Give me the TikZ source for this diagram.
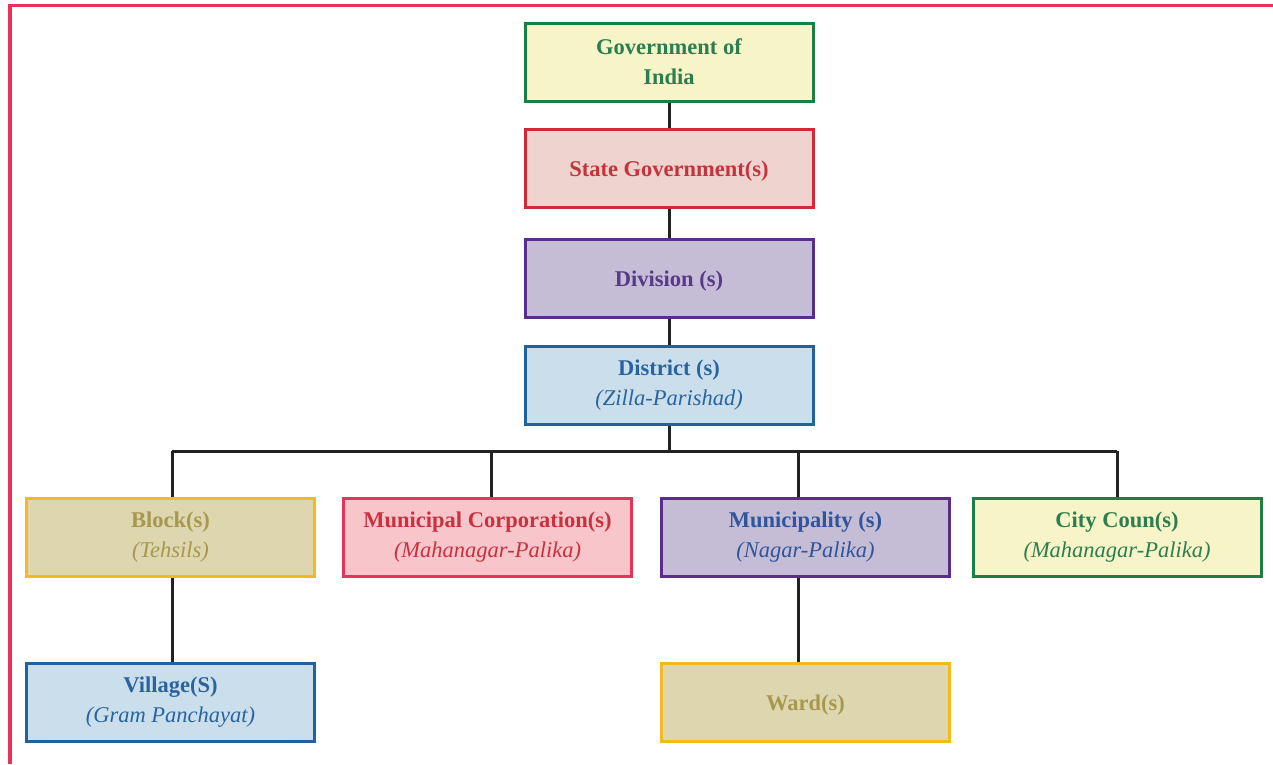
\documentclass[tikz,border=0pt]{standalone}
\usepackage{fontspec}
\setmainfont{Liberation Serif}
\definecolor{pinkb}{HTML}{E8325A}
\definecolor{gfill}{HTML}{F7F5C8}\definecolor{gdraw}{HTML}{1A7F45}\definecolor{gtext}{HTML}{2E7D50}
\definecolor{rfill}{HTML}{EFD3CE}\definecolor{rdraw}{HTML}{CF2A36}\definecolor{rtext}{HTML}{C4343C}
\definecolor{pfill}{HTML}{C5BCD6}\definecolor{pdraw}{HTML}{5A2D8A}\definecolor{ptext}{HTML}{583A88}
\definecolor{bfill}{HTML}{CADFEB}\definecolor{bdraw}{HTML}{1E63A0}\definecolor{btext}{HTML}{2A64A0}
\definecolor{yfill}{HTML}{DDD6AE}\definecolor{ydraw}{HTML}{F3B91E}\definecolor{ytext}{HTML}{A8984F}
\definecolor{mfill}{HTML}{F8C6CA}\definecolor{mtext}{HTML}{C8323F}
\definecolor{mutext}{HTML}{2F559A}
\definecolor{conn}{HTML}{222222}
\begin{document}
\begin{tikzpicture}[x=1pt,y=-1pt,
  box/.style={draw=#1, line width=3pt, minimum width=288pt, minimum height=78pt, inner sep=0pt, align=center, font=\fontsize{22.5}{30}\selectfont\bfseries, execute at begin node=\rule{0pt}{22pt}},
  link/.style={draw=conn, line width=3pt}]
\useasboundingbox (0,0) rectangle (1273,764);
\draw[pinkb, line width=3.5pt] (1273,5.5) -- (10,5.5) -- (10,764);
\node[box=gdraw, fill=gfill, text=gtext] (goi) at (669,62) {Government of\\India};
\node[box=rdraw, fill=rfill, text=rtext] (state) at (669,168) {State Government(s)};
\node[box=pdraw, fill=pfill, text=ptext] (div) at (669,278) {Division (s)};
\node[box=bdraw, fill=bfill, text=btext] (dist) at (669,385) {District (s)\\{\mdseries\itshape (Zilla-Parishad)}};
\node[box=ydraw, fill=yfill, text=ytext] (block) at (170.5,537) {Block(s)\\{\mdseries\itshape (Tehsils)}};
\node[box=pinkb, fill=mfill, text=mtext] (mc) at (487.5,537) {Municipal Corporation(s)\\{\mdseries\itshape (Mahanagar-Palika)}};
\node[box=pdraw, fill=pfill, text=mutext] (mun) at (805.5,537) {Municipality (s)\\{\mdseries\itshape (Nagar-Palika)}};
\node[box=gdraw, fill=gfill, text=gtext] (city) at (1117,537) {City Coun(s)\\{\mdseries\itshape (Mahanagar-Palika)}};
\node[box=bdraw, fill=bfill, text=btext] (vil) at (170.5,702) {Village(S)\\{\mdseries\itshape (Gram Panchayat)}};
\node[box=ydraw, fill=yfill, text=ytext] (ward) at (805.5,702) {Ward(s)};
\coordinate (bus) at (669,451);
\path[link] (goi) -- (state);
\path[link] (state) -- (div);
\path[link] (div) -- (dist);
\path[link] (dist) -- (bus);
\path[link] (172,451) -- (1117,451);
\path[link] (block.north -| 172,0) -- (172,451);
\path[link] (mc.north -| 491,0) -- (491,451);
\path[link] (mun.north -| 798,0) -- (798,451);
\path[link] (city.north) -- (1117,451);
\path[link] (block.south -| 172,0) -- (vil.north -| 172,0);
\path[link] (mun.south -| 798,0) -- (ward.north -| 798,0);
\end{tikzpicture}
\end{document}
